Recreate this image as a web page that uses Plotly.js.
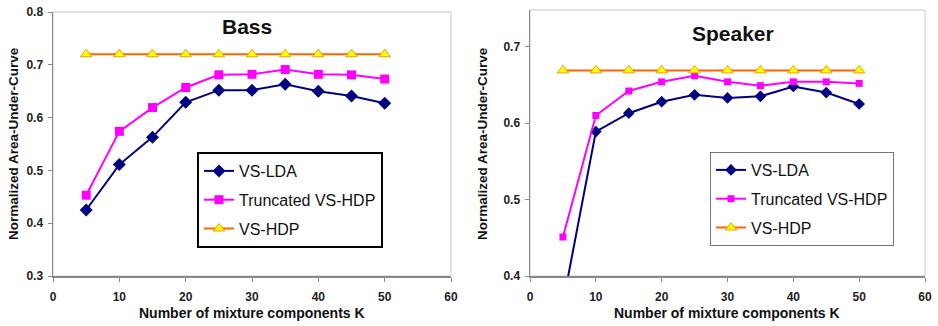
<!DOCTYPE html>
<html>
<head>
<meta charset="utf-8">
<script src="https://cdn.plot.ly/plotly-3.0.1.min.js"></script>
<style>html,body{margin:0;padding:0;background:#fff;}#chart{width:938px;height:326px;}</style>
</head>
<body>
<div id="chart"></div>
<script>
// ---- data ----
const K = [5, 10, 15, 20, 25, 30, 35, 40, 45, 50];
const seriesNames = ["VS-LDA", "Truncated VS-HDP", "VS-HDP"];

const bassVSLDA     = [0.425, 0.511, 0.563, 0.629, 0.652, 0.652, 0.663, 0.650, 0.641, 0.627];
const bassTruncated = [0.453, 0.574, 0.619, 0.657, 0.681, 0.682, 0.691, 0.682, 0.681, 0.673];
const bassVSHDP     = [0.720, 0.720, 0.720, 0.720, 0.720, 0.720, 0.720, 0.720, 0.720, 0.720];

const spkVSLDA      = [0.364, 0.589, 0.613, 0.628, 0.637, 0.633, 0.635, 0.648, 0.640, 0.625];
const spkTruncated  = [0.451, 0.610, 0.642, 0.654, 0.662, 0.654, 0.649, 0.654, 0.654, 0.652];
const spkVSHDP      = [0.669, 0.669, 0.669, 0.669, 0.669, 0.669, 0.669, 0.669, 0.669, 0.669];

const panelTitles = ["Bass", "Speaker"];
const xTitle = "Number of mixture components K";
const yTitle = "Normalized Area-Under-Curve";

// ---- styling ----
const W = 938, H = 326;
const FONT = "Liberation Sans, Arial, sans-serif";
function makeStyles(big) {
  return [
    {line: {color: "#000080", width: 2}, marker: {symbol: "diamond", size: big ? 10 : 9, color: "#000080"}},
    {line: {color: "#FF00FF", width: 2}, marker: {symbol: "square", size: big ? 9 : 7, color: "#FF00FF"}},
    {line: {color: "#FF6600", width: 2}, marker: {symbol: "triangle-up", size: 10, color: "#FFFF00", line: {color: "#F0A000", width: 1}}}
  ];
}
const leftStyles = makeStyles(true), rightStyles = makeStyles(false);

function px(x) { return x / W; }
function py(y) { return 1 - y / H; }

const traces = [];
const left = [bassVSLDA, bassTruncated, bassVSHDP];
const right = [spkVSLDA, spkTruncated, spkVSHDP];
left.forEach((vals, i) => traces.push(Object.assign({
  type: "scatter", mode: "lines+markers", x: K, y: vals, name: seriesNames[i],
  xaxis: "x", yaxis: "y", legend: "legend", legendgroup: "a" + i
}, leftStyles[i])));
right.forEach((vals, i) => traces.push(Object.assign({
  type: "scatter", mode: "lines+markers", x: K, y: vals, name: seriesNames[i],
  xaxis: "x2", yaxis: "y2", legend: "legend2", legendgroup: "b" + i
}, rightStyles[i])));

const tickFont = {family: FONT, size: 12, color: "#222", weight: "bold"};
function xAxis(domain, anchor) {
  return {domain: domain, anchor: anchor, range: [0, 60], dtick: 10, tick0: 0,
    showgrid: false, zeroline: false, showline: true, linecolor: "#888", linewidth: 1.5,
    ticks: "outside", ticklen: 4, tickcolor: "#888", tickfont: tickFont, ticklabelstandoff: 5, fixedrange: true};
}
function yAxis(domain, anchor, range) {
  return {domain: domain, anchor: anchor, range: range, dtick: 0.1, tick0: 0.3,
    tickformat: ".1f", showgrid: false, zeroline: false, showline: true, linecolor: "#888", linewidth: 1.5,
    ticks: "outside", ticklen: 4, tickcolor: "#888", tickfont: tickFont, ticklabelstandoff: 2, fixedrange: true};
}

const legendCommon = {
  font: {family: FONT, size: 16, color: "#111"}, bgcolor: "#fff",
  xanchor: "left", yanchor: "top", itemwidth: 30, tracegroupgap: 5,
  traceorder: "grouped", itemclick: false, itemdoubleclick: false
};

function ann(text, x, y, size, angle) {
  return {text: text, xref: "paper", yref: "paper", x: px(x), y: py(y), xanchor: "center", yanchor: "middle",
    textangle: angle || 0, showarrow: false, font: {family: FONT, size: size, color: "#111"}};
}

const layout = {
  width: W, height: H, margin: {l: 0, r: 0, t: 0, b: 0},
  paper_bgcolor: "#fff", plot_bgcolor: "#fff", showlegend: true,
  font: {family: FONT},
  xaxis: xAxis([px(53), px(451)], "y"),
  yaxis: yAxis([py(276), py(12)], "x", [0.3, 0.8]),
  xaxis2: xAxis([px(530), px(925)], "y2"),
  yaxis2: yAxis([py(276), py(10)], "x2", [0.4, 0.748]),
  legend: Object.assign({}, legendCommon, {x: px(197), y: py(152), bordercolor: "#000", borderwidth: 2}),
  legend2: Object.assign({}, legendCommon, {x: px(710), y: py(152), bordercolor: "#777", borderwidth: 1}),
  shapes: [
    {type: "rect", xref: "x domain", yref: "y domain", x0: 0, x1: 1, y0: 0, y1: 1, line: {color: "#c8c8c8", width: 1}, layer: "below"},
    {type: "rect", xref: "x2 domain", yref: "y2 domain", x0: 0, x1: 1, y0: 0, y1: 1, line: {color: "#c8c8c8", width: 1}, layer: "below"}
  ],
  annotations: [
    ann("<b>" + panelTitles[0] + "</b>", 247, 27, 21),
    ann("<b>" + panelTitles[1] + "</b>", 733, 34, 21),
    ann("<b>" + xTitle + "</b>", 252, 313, 14),
    ann("<b>" + xTitle + "</b>", 727, 313, 14),
    ann("<b>" + yTitle + "</b>", 13, 144, 13.5, -90),
    ann("<b>" + yTitle + "</b>", 482, 143, 13.5, -90)
  ]
};

Plotly.newPlot("chart", traces, layout, {displayModeBar: false, staticPlot: true});
</script>
</body>
</html>
